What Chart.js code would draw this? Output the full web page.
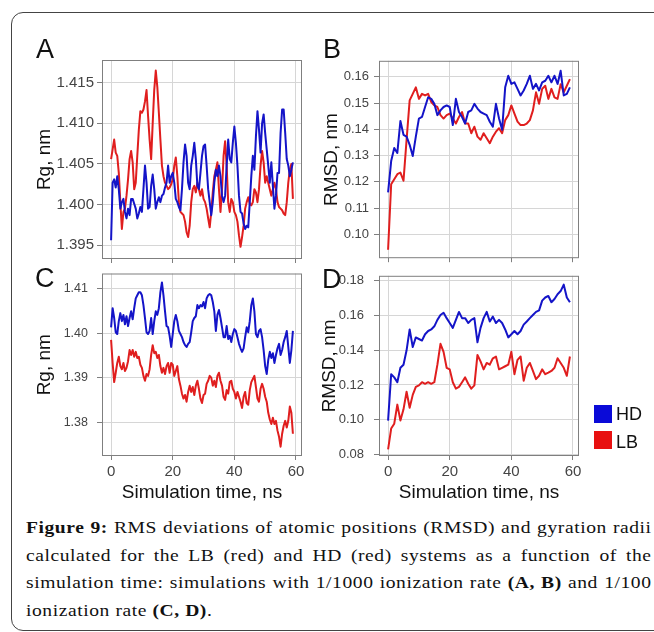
<!DOCTYPE html>
<html>
<head>
<meta charset="utf-8">
<script src="https://cdn.jsdelivr.net/npm/chart.js@4.4.1/dist/chart.umd.min.js"></script>
<style>
  html, body { margin: 0; padding: 0; background: #fff; }
  #page { position: relative; width: 654px; height: 632px; overflow: hidden; background: #fff; }
  #frame { position: absolute; left: 11px; top: 12px; width: 760px; height: 619px;
           border: 1.5px solid #444; border-radius: 12px; box-sizing: border-box; }
  canvas { position: absolute; }
  .lbl { position: absolute; font-family: "Liberation Sans", Arial, sans-serif; font-size: 27px;
         line-height: 27px; color: #111; }
  .key { position: absolute; width: 18px; height: 18px; }
  .keytxt { position: absolute; font-family: "Liberation Sans", Arial, sans-serif; font-size: 18px;
            line-height: 18px; color: #111; }
  #caption { position: absolute; left: 26px; top: 514px; width: 544px;
             transform: scaleX(1.15); transform-origin: 0 0;
             font-family: "Liberation Serif", "Times New Roman", serif; font-size: 17px;
             line-height: 27.5px; color: #111; letter-spacing: 0.5px; }
  #caption div { text-align: justify; text-align-last: justify; white-space: nowrap; }
  #caption div.last { text-align-last: left; }
</style>
</head>
<body>
<div id="page">
  <div id="frame"></div>
  <canvas id="chartA" style="left:33px;top:48px" width="277" height="223"></canvas>
  <canvas id="chartB" style="left:320px;top:48px" width="267" height="223"></canvas>
  <canvas id="chartC" style="left:33px;top:257px" width="277" height="247"></canvas>
  <canvas id="chartD" style="left:318px;top:258px" width="269" height="246"></canvas>

  <div class="lbl" style="left:36px;top:36px">A</div>
  <div class="lbl" style="left:323px;top:36px">B</div>
  <div class="lbl" style="left:35px;top:265px">C</div>
  <div class="lbl" style="left:322px;top:266px">D</div>

  <div class="key" style="left:594px;top:405px;background:#0a0ad8"></div>
  <div class="keytxt" style="left:616px;top:405px">HD</div>
  <div class="key" style="left:594px;top:431px;background:#e81010"></div>
  <div class="keytxt" style="left:616px;top:433px">LB</div>

  <div id="caption">
    <div><b>Figure 9:</b> RMS deviations of atomic positions (RMSD) and gyration radii</div>
    <div>calculated for the LB (red) and HD (red) systems as a function of the</div>
    <div>simulation time: simulations with 1/1000 ionization rate <b>(A, B)</b> and 1/100</div>
    <div class="last">ionization rate <b>(C, D)</b>.</div>
  </div>
</div>

<script>
// sampling grids (ns)
const timeHalf = Array.from({length: 119}, (_, i) => i * 0.5);
const timeOne = Array.from({length: 60}, (_, i) => i);

const xTicks = [0, 20, 40, 60];

// A: Rg, 1/1000 ionization rate
const rgA_HD = [
  1.3956, 1.4027, 1.4031, 1.4021, 1.4035, 1.4019, 1.3995, 1.4003, 1.4007, 1.3991,
  1.3983, 1.3995, 1.3987, 1.4007, 1.4007, 1.4001, 1.3995, 1.3983, 1.3989, 1.3997,
  1.3991, 1.4019, 1.4048, 1.4027, 1.3995, 1.3997, 1.4023, 1.4037, 1.4019, 1.3995,
  1.4003, 1.4009, 1.4003, 1.4011, 1.4013, 1.4021, 1.4027, 1.4048, 1.4027, 1.4035,
  1.4039, 1.4027, 1.4007, 1.4003, 1.3997, 1.3993, 1.4019, 1.4052, 1.4074, 1.4060,
  1.4027, 1.4019, 1.4048, 1.4060, 1.4076, 1.4056, 1.4023, 1.4019, 1.4039, 1.4060,
  1.4072, 1.4074, 1.4048, 1.4019, 1.4003, 1.3987, 1.4003, 1.4027, 1.4043, 1.4035,
  1.4048, 1.4035, 1.4011, 1.4003, 1.4011, 1.4048, 1.4080, 1.4056, 1.4052, 1.4076,
  1.4096, 1.4076, 1.4048, 1.4011, 1.3991, 1.3989, 1.3977, 1.3970, 1.3974, 1.3972,
  1.4003, 1.4035, 1.4060, 1.4043, 1.4084, 1.4115, 1.4092, 1.4064, 1.4100, 1.4111,
  1.4088, 1.4068, 1.4048, 1.4027, 1.4052, 1.4023, 1.3995, 1.4011, 1.4039, 1.4039,
  1.4088, 1.4117, 1.4117, 1.4088, 1.4056, 1.4048, 1.4035, 1.4043, 1.4052
];
const rgA_LB = [
  1.4056, 1.4068, 1.4080, 1.4064, 1.4060, 1.4039, 1.4003, 1.3970, 1.3991, 1.3995,
  1.4011, 1.4031, 1.4056, 1.4066, 1.4052, 1.4019, 1.4027, 1.4060, 1.4092, 1.4115,
  1.4113, 1.4117, 1.4127, 1.4141, 1.4109, 1.4080, 1.4056, 1.4100, 1.4141, 1.4165,
  1.4145, 1.4113, 1.4080, 1.4048, 1.4035, 1.4027, 1.4023, 1.4019, 1.4021, 1.4025,
  1.4031, 1.4048, 1.4058, 1.4035, 1.4003, 1.3991, 1.3989, 1.3987, 1.3979, 1.3966,
  1.3960, 1.3974, 1.4003, 1.4019, 1.4023, 1.4015, 1.4027, 1.4019, 1.4011, 1.4019,
  1.4007, 1.4003, 1.3995, 1.3983, 1.3972, 1.3991, 1.4015, 1.4035, 1.4043, 1.4052,
  1.4019, 1.3991, 1.4019, 1.4060, 1.4078, 1.4048, 1.4003, 1.3991, 1.4007, 1.4003,
  1.3991, 1.3987, 1.3979, 1.3962, 1.3948, 1.3960, 1.3974, 1.3995, 1.4003, 1.4009,
  1.4001, 1.3999, 1.4003, 1.4019, 1.4015, 1.4003, 1.4019, 1.4048, 1.4066, 1.4052,
  1.4027, 1.4035, 1.4027, 1.4019, 1.4011, 1.4019, 1.4027, 1.4019, 1.4003, 1.3997,
  1.3995, 1.3993, 1.3989, 1.3987, 1.4003, 1.4027, 1.4043, 1.4050, 1.4007
];

// B: RMSD, 1/1000 ionization rate
const rmsdB_HD = [
  0.1160, 0.1279, 0.1329, 0.1310, 0.1432, 0.1379, 0.1372, 0.1341, 0.1298, 0.1372,
  0.1441, 0.1447, 0.1485, 0.1522, 0.1516, 0.1497, 0.1454, 0.1472, 0.1485, 0.1491,
  0.1485, 0.1416, 0.1516, 0.1466, 0.1447, 0.1422, 0.1466, 0.1472, 0.1497, 0.1479,
  0.1466, 0.1460, 0.1454, 0.1429, 0.1410, 0.1497, 0.1441, 0.1398, 0.1560, 0.1604,
  0.1573, 0.1579, 0.1554, 0.1529, 0.1548, 0.1573, 0.1604, 0.1554, 0.1573, 0.1548,
  0.1579, 0.1585, 0.1604, 0.1579, 0.1604, 0.1573, 0.1623, 0.1529, 0.1535, 0.1560
];
const rmsdB_LB = [
  0.0941, 0.1191, 0.1210, 0.1229, 0.1235, 0.1204, 0.1360, 0.1510, 0.1535, 0.1560,
  0.1516, 0.1535, 0.1529, 0.1535, 0.1504, 0.1491, 0.1485, 0.1454, 0.1441, 0.1454,
  0.1460, 0.1441, 0.1422, 0.1447, 0.1466, 0.1422, 0.1422, 0.1385, 0.1410, 0.1372,
  0.1360, 0.1385, 0.1366, 0.1347, 0.1372, 0.1391, 0.1404, 0.1385, 0.1435, 0.1454,
  0.1491, 0.1460, 0.1429, 0.1416, 0.1416, 0.1422, 0.1435, 0.1472, 0.1541, 0.1497,
  0.1554, 0.1566, 0.1516, 0.1554, 0.1522, 0.1516, 0.1572, 0.1541, 0.1566, 0.1591
];

// C: Rg, 1/100 ionization rate
const rgC_HD = [
  1.4013, 1.4056, 1.4034, 1.4002, 1.3998, 1.4027, 1.4045, 1.4027, 1.4041, 1.4020,
  1.4038, 1.4016, 1.4034, 1.4049, 1.4031, 1.4056, 1.4078, 1.4085, 1.4092, 1.4092,
  1.4085, 1.4063, 1.4034, 1.4002, 1.3998, 1.4005, 1.4034, 1.3998, 1.4027, 1.4049,
  1.4041, 1.4056, 1.4092, 1.4114, 1.4085, 1.4049, 1.4016, 1.4013, 1.3994, 1.3969,
  1.3998, 1.4027, 1.4041, 1.4027, 1.4005, 1.3998, 1.3991, 1.3980, 1.3973, 1.3969,
  1.3976, 1.3980, 1.4002, 1.4027, 1.4034, 1.4038, 1.4063, 1.4056, 1.4063, 1.4060,
  1.4070, 1.4056, 1.4078, 1.4085, 1.4088, 1.4085, 1.4070, 1.4049, 1.4005, 1.4041,
  1.4052, 1.4034, 1.4013, 1.3991, 1.3991, 1.4016, 1.3987, 1.3994, 1.3980, 1.3998,
  1.4009, 1.4005, 1.3991, 1.3976, 1.3966, 1.3958, 1.3966, 1.3991, 1.4013, 1.4002,
  1.4027, 1.4063, 1.4078, 1.4049, 1.3998, 1.3991, 1.4005, 1.4009, 1.3991, 1.3962,
  1.3926, 1.3908, 1.3940, 1.3958, 1.3944, 1.3955, 1.3933, 1.3951, 1.3966, 1.3976,
  1.3951, 1.3962, 1.3980, 1.3991, 1.4005, 1.3969, 1.3933, 1.3962, 1.4005
];
const rgC_LB = [
  1.3985, 1.3933, 1.3890, 1.3911, 1.3933, 1.3947, 1.3926, 1.3919, 1.3933, 1.3915,
  1.3922, 1.3937, 1.3962, 1.3951, 1.3962, 1.3947, 1.3958, 1.3944, 1.3947, 1.3929,
  1.3922, 1.3904, 1.3893, 1.3908, 1.3904, 1.3919, 1.3951, 1.3973, 1.3955, 1.3958,
  1.3944, 1.3951, 1.3926, 1.3911, 1.3922, 1.3908, 1.3926, 1.3933, 1.3911, 1.3933,
  1.3929, 1.3904, 1.3915, 1.3926, 1.3897, 1.3882, 1.3864, 1.3853, 1.3861, 1.3846,
  1.3868, 1.3882, 1.3868, 1.3879, 1.3861, 1.3882, 1.3893, 1.3875, 1.3853, 1.3843,
  1.3861, 1.3864, 1.3886, 1.3893, 1.3904, 1.3900, 1.3882, 1.3893, 1.3879, 1.3904,
  1.3911, 1.3893, 1.3882, 1.3857, 1.3850, 1.3872, 1.3864, 1.3890, 1.3893, 1.3875,
  1.3868, 1.3853, 1.3868, 1.3857, 1.3846, 1.3832, 1.3857, 1.3868, 1.3843, 1.3839,
  1.3872, 1.3890, 1.3897, 1.3904, 1.3879, 1.3853, 1.3846, 1.3875, 1.3886, 1.3875,
  1.3857, 1.3846, 1.3821, 1.3806, 1.3796, 1.3810, 1.3796, 1.3803, 1.3781, 1.3767,
  1.3745, 1.3774, 1.3792, 1.3803, 1.3788, 1.3803, 1.3835, 1.3821, 1.3774
];

// D: RMSD, 1/100 ionization rate
const rmsdD_HD = [
  0.0995, 0.1262, 0.1244, 0.1216, 0.1299, 0.1317, 0.1400, 0.1520, 0.1419, 0.1474,
  0.1465, 0.1456, 0.1492, 0.1511, 0.1520, 0.1538, 0.1575, 0.1603, 0.1616, 0.1585,
  0.1557, 0.1529, 0.1575, 0.1621, 0.1585, 0.1585, 0.1557, 0.1575, 0.1585, 0.1446,
  0.1529, 0.1585, 0.1621, 0.1566, 0.1594, 0.1557, 0.1575, 0.1557, 0.1520, 0.1474,
  0.1492, 0.1511, 0.1492, 0.1511, 0.1548, 0.1566, 0.1585, 0.1603, 0.1621, 0.1630,
  0.1686, 0.1704, 0.1713, 0.1677, 0.1695, 0.1723, 0.1741, 0.1778, 0.1704, 0.1677
];
const rmsdD_LB = [
  0.0829, 0.0949, 0.0977, 0.1087, 0.0995, 0.1060, 0.1161, 0.1069, 0.1143, 0.1189,
  0.1198, 0.1216, 0.1207, 0.1216, 0.1207, 0.1216, 0.1317, 0.1437, 0.1391, 0.1299,
  0.1290, 0.1216, 0.1179, 0.1189, 0.1216, 0.1244, 0.1207, 0.1179, 0.1198, 0.1373,
  0.1336, 0.1290, 0.1327, 0.1317, 0.1354, 0.1364, 0.1290, 0.1299, 0.1308, 0.1317,
  0.1391, 0.1262, 0.1345, 0.1364, 0.1225, 0.1299, 0.1327, 0.1281, 0.1234, 0.1253,
  0.1290, 0.1262, 0.1271, 0.1281, 0.1299, 0.1354, 0.1327, 0.1299, 0.1253, 0.1364
];

const ticksRgA = [1.395, 1.400, 1.405, 1.410, 1.415];
const ticksRmsdB = [0.10, 0.11, 0.12, 0.13, 0.14, 0.15, 0.16];
const ticksRgC = [1.38, 1.39, 1.40, 1.41];
const ticksRmsdD = [0.08, 0.10, 0.12, 0.14, 0.16, 0.18];

Chart.defaults.font.family = '"Liberation Sans", Arial, Helvetica, sans-serif';
Chart.defaults.animation = false;

const HD_COLOR = '#1414c8';
const LB_COLOR = '#e01e1e';

// grey box around the plotting area, under the lines
const framePlugin = {
  id: 'frame',
  beforeDatasetsDraw(chart) {
    const {ctx, chartArea: a} = chart;
    ctx.save();
    ctx.strokeStyle = '#7f7f7f';
    ctx.lineWidth = 1;
    ctx.strokeRect(a.left + 0.5, a.top + 0.5, a.right - a.left - 1, a.bottom - a.top - 1);
    ctx.restore();
  }
};

function pts(times, vals) {
  return vals.map((v, i) => ({x: times[i], y: v}));
}

function panel(id, o) {
  new Chart(document.getElementById(id), {
    type: 'line',
    data: {
      datasets: [
        {label: 'HD', data: pts(o.times, o.hd), borderColor: HD_COLOR},
        {label: 'LB', data: pts(o.times, o.lb), borderColor: LB_COLOR}
      ]
    },
    options: {
      responsive: false,
      animation: false,
      parsing: false,
      layout: {padding: {top: 10, right: 8, left: 0, bottom: 0}},
      elements: {
        line: {borderWidth: 2, tension: 0, fill: false, borderJoinStyle: 'round'},
        point: {radius: 0}
      },
      plugins: {legend: {display: false}, tooltip: {enabled: false}},
      scales: {
        x: {
          type: 'linear', min: -2.95, max: 61.95,
          afterBuildTicks: s => { s.ticks = xTicks.map(v => ({value: v})); },
          afterFit: s => { s.height = o.xH; },
          ticks: {display: o.showX, autoSkip: false, maxRotation: 0, padding: 3,
                  color: '#444', font: {size: 15}},
          grid: {color: '#d6d6d6', lineWidth: 1, tickLength: 4, tickColor: '#7f7f7f'},
          border: {display: false},
          title: {display: o.showX, text: 'Simulation time, ns', color: '#111',
                  font: {size: 19}, padding: {top: 0, bottom: 0}}
        },
        y: {
          type: 'linear', min: o.yMin, max: o.yMax,
          afterBuildTicks: s => { s.ticks = o.yTicks.map(v => ({value: v})); },
          afterFit: s => { s.width = o.yW; },
          ticks: {autoSkip: false, padding: o.yPad, color: '#444', font: {size: o.yFont},
                  callback: v => v.toFixed(o.dec)},
          grid: {color: '#d6d6d6', lineWidth: 1, tickLength: 5, tickColor: '#7f7f7f'},
          border: {display: false},
          title: {display: true, text: o.yTitle, color: '#111',
                  font: {size: 19}, padding: {top: 0, bottom: 0}}
        }
      }
    },
    plugins: [framePlugin]
  });
}

panel('chartA', {times: timeHalf, hd: rgA_HD, lb: rgA_LB, yMin: 1.3933, yMax: 1.4178,
  yTicks: ticksRgA, dec: 3, yTitle: 'Rg, nm', yW: 69, yPad: 3, yFont: 15, xH: 12, showX: false});
panel('chartB', {times: timeOne, hd: rmsdB_HD, lb: rmsdB_LB, yMin: 0.0909, yMax: 0.1661,
  yTicks: ticksRmsdB, dec: 2, yTitle: 'RMSD, nm', yW: 59, yPad: 5, yFont: 13, xH: 12, showX: false});
panel('chartC', {times: timeHalf, hd: rgC_HD, lb: rgC_LB, yMin: 1.3724, yMax: 1.4134,
  yTicks: ticksRgC, dec: 2, yTitle: 'Rg, nm', yW: 69, yPad: 9, yFont: 12.5, xH: 48, showX: true});
panel('chartD', {times: timeOne, hd: rmsdD_HD, lb: rmsdD_LB, yMin: 0.0791, yMax: 0.1829,
  yTicks: ticksRmsdD, dec: 2, yTitle: 'RMSD, nm', yW: 61, yPad: 10, yFont: 13, xH: 48, showX: true});
</script>
</body>
</html>
